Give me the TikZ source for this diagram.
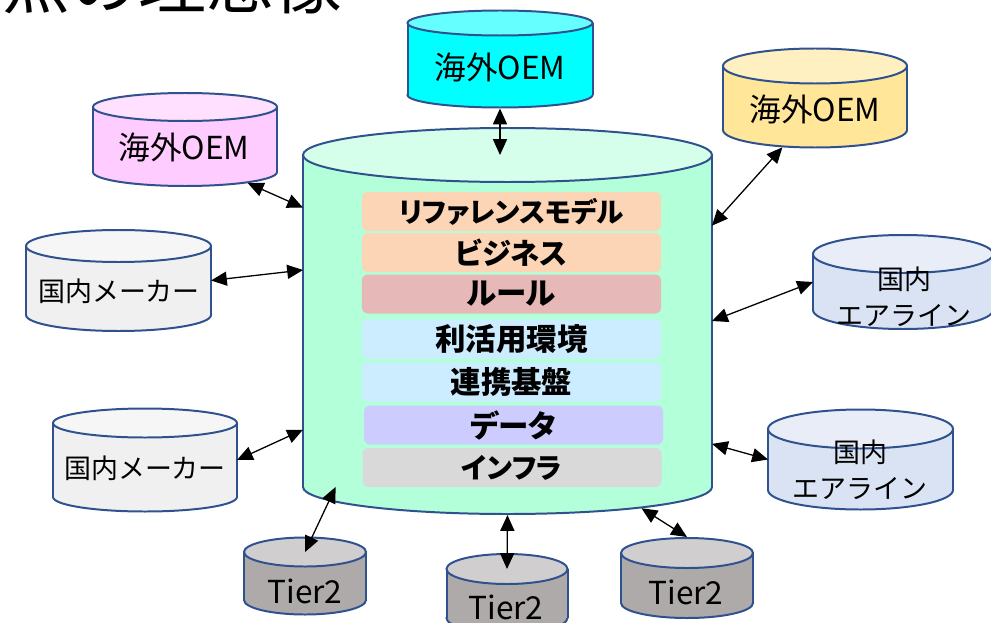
\documentclass[tikz,border=0pt]{standalone}
\usepackage{fontspec}
\setmainfont{Noto Sans CJK JP}
\newfontfamily\palfont[RawFeature=+palt]{Noto Sans CJK JP}
\usepackage{tikz}
\usetikzlibrary{arrows.meta,shapes.geometric,calc}
\definecolor{cylline}{HTML}{2F528F}
\definecolor{mainTop}{HTML}{D6FFEB}
\definecolor{mainBody}{HTML}{B3FFD9}
\definecolor{cyanTop}{HTML}{66FFFF}
\definecolor{cyanBody}{HTML}{00FFFF}
\definecolor{pinkTop}{HTML}{FFE0FF}
\definecolor{pinkBody}{HTML}{FFCCFF}
\definecolor{yellowTop}{HTML}{FFF0C1}
\definecolor{yellowBody}{HTML}{FFE699}
\definecolor{greyTop}{HTML}{F6F6F6}
\definecolor{greyBody}{HTML}{F0F0F0}
\definecolor{airTop}{HTML}{E8EDF8}
\definecolor{airBody}{HTML}{DAE3F3}
\definecolor{tierTop}{HTML}{D0CECE}
\definecolor{tierBody}{HTML}{AEAAAA}
\definecolor{layPeach}{HTML}{FBD5B5}
\definecolor{layRule}{HTML}{E6B9B8}
\definecolor{layEnv}{HTML}{CCECFF}
\definecolor{layData}{HTML}{CCCCFF}
\definecolor{layInfra}{HTML}{D9D9D9}
\tikzstyle{cylend}=[ellipse, draw=cylline, line width=1.7pt, inner sep=0pt]
\tikzstyle{cylbody}=[rectangle, inner sep=0pt, outer sep=0pt]
\tikzstyle{cylside}=[draw=cylline, line width=1.7pt]
\tikzstyle{layer}=[rectangle, rounded corners=5pt, inner sep=0pt, minimum width=8.97cm, minimum height=1.17cm, font=\palfont\bfseries\fontsize{26}{28}\selectfont]
\tikzstyle{link}=[{Triangle[length=13.5pt,width=12pt]}-{Triangle[length=13.5pt,width=12pt]}, line width=1.1pt]
\tikzstyle{lbl}=[inner sep=0pt, align=center, font=\fontsize{23}{31}\selectfont]
\tikzstyle{lblbig}=[inner sep=0pt, align=center, font=\fontsize{27}{30}\selectfont]
\newcommand{\dbCyl}[8]{
	\node[cylend, fill=#8, minimum width={2*#5*0.03cm}, minimum height={2*#6*0.03cm}] (#1-b) at (#2,#4) {};
	\node[cylbody, fill=#8, minimum width={2*#5*0.03cm}, minimum height={(#4-#3)*0.03cm}] (#1) at (#2,{(#3+#4)/2}) {};
	\draw[cylside] (#1.north west) -- (#1.south west) (#1.north east) -- (#1.south east);
	\node[cylend, fill=#7, minimum width={2*#5*0.03cm}, minimum height={2*#6*0.03cm}] (#1-t) at (#2,#3) {};
}
\begin{document}
\begin{tikzpicture}[x=0.03cm,y=-0.03cm]
	\useasboundingbox (0,0) rectangle (991,622);
	\clip (0,0) rectangle (991,622);
	\node[anchor=base west, inner sep=0pt, font=\fontsize{58}{60}\selectfont] (title) at (2,9) {点の理想像};

	\dbCyl{main}{507.5}{155}{487}{204.5}{27}{mainTop}{mainBody}
	\node[layer, fill=layPeach, font=\palfont\bfseries\fontsize{23.5}{28}\selectfont] (refm) at (511.5,211.5) {リファレンスモデル};
	\node[layer, fill=layPeach, font=\palfont\bfseries\fontsize{25}{28}\selectfont] (biz) at (511.5,252.5) {ビジネス};
	\node[layer, fill=layRule] (rules) at (511.5,294) {ルール};
	\node[layer, fill=layEnv] (env) at (511.5,339) {利活用環境};
	\node[layer, fill=layEnv] (coop) at (511.5,382) {連携基盤};
	\node[layer, fill=layData] (data) at (513.5,425) {データ};
	\node[layer, fill=layInfra, font=\palfont\bfseries\fontsize{24}{28}\selectfont] (infra) at (512,467.5) {インフラ};

	\dbCyl{oemA}{500}{23}{95}{92.5}{12.5}{cyanTop}{cyanBody}
	\node[lblbig] (oemA-l) at (500,67) {海外OEM};
	\dbCyl{oemB}{185}{107}{172}{92}{14}{pinkTop}{pinkBody}
	\node[lblbig] (oemB-l) at (184,147) {海外OEM};
	\dbCyl{oemC}{815}{66}{130}{92}{17.5}{yellowTop}{yellowBody}
	\node[lblbig] (oemC-l) at (815,109) {海外OEM};
	\dbCyl{makerA}{118.5}{246}{315}{92.5}{16}{greyTop}{greyBody}
	\node[lbl] (makerA-l) at (119,291) {国内メーカー};
	\dbCyl{makerB}{145}{423}{497}{92}{14.5}{greyTop}{greyBody}
	\node[lbl] (makerB-l) at (145,468) {国内メーカー};
	\dbCyl{airA}{903}{254}{310}{90}{19}{airTop}{airBody}
	\node[lbl] (airA-l) at (904,297) {国内\\エアライン};
	\dbCyl{airB}{860.5}{429}{490}{92.5}{19.5}{airTop}{airBody}
	\node[lbl] (airB-l) at (860,470) {国内\\エアライン};
	\dbCyl{tierA}{305}{552}{600}{61}{14.5}{tierTop}{tierBody}
	\node[lblbig] (tierA-l) at (305,591) {Tier2};
	\dbCyl{tierB}{507}{569}{618}{60.5}{15}{tierTop}{tierBody}
	\node[lblbig] (tierB-l) at (506,607) {Tier2};
	\dbCyl{tierC}{687}{553}{603}{66}{15}{tierTop}{tierBody}
	\node[lblbig] (tierC-l) at (686,592) {Tier2};

	\draw[link] (oemA-b.south) -- (oemA-b.south |- main-t.center);
	\draw[link] (oemB-b.-10.6) -- (main.151.9);
	\draw[link] (makerA.east) -- (main.166.5);
	\draw[link] (makerB.east) -- (main.208.1);
	\draw[link] (tierA-t.center) -- (main.224.4);
	\draw[link] (tierB-t.center) -- (main-b.south);
	\draw[link] (tierC-t.north) -- (main-b.-9);
	\draw[link] (oemC-b.208) -- (main.25.6);
	\draw[link] (airA.west) -- (main.east);
	\draw[link] (airB.west) -- (main.-31.8);
\end{tikzpicture}
\end{document}
